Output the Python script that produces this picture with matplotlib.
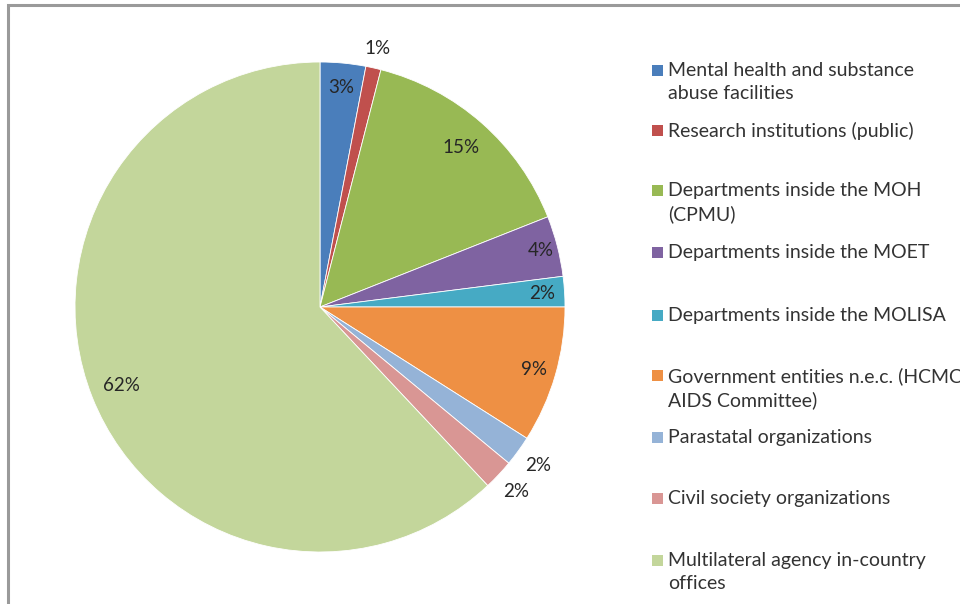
import numpy as np
import matplotlib.pyplot as plt
from matplotlib.patches import Rectangle

plt.rcParams['font.family'] = ['Lato', 'DejaVu Sans']

categories = [
    'Mental health and substance\nabuse facilities',
    'Research institutions (public)',
    'Departments inside the MOH\n(CPMU)',
    'Departments inside the MOET',
    'Departments inside the MOLISA',
    'Government entities n.e.c. (HCMC\nAIDS Committee)',
    'Parastatal organizations',
    'Civil society organizations',
    'Multilateral agency in-country\noffices',
]
shares = [3, 1, 15, 4, 2, 9, 2, 2, 62]

colors = ['#4a7ebb', '#c0504d', '#98b954', '#7f63a1', '#46aac4',
          '#ee9044', '#95b3d7', '#d99694', '#c3d69b']
# radial position of each percentage label (fraction of radius)
label_dist = [0.90, 1.08, 0.87, 0.93, 0.91, 0.91, 1.10, 1.10, 0.87]
# legend row positions (pixels from top)
legend_y = [70, 130, 190, 252, 315, 375, 437, 498, 560]

W, H = 960, 604
fig = plt.figure(figsize=(W / 100, H / 100), dpi=100)
ax = fig.add_axes([0, 0, 1, 1])

# outer chart frame, running off the right and bottom edges
ax.add_patch(Rectangle((8, -10), W, H - 5 + 10, fill=False,
                       edgecolor='#9a9a9a', linewidth=2.2))

cx, cy, r = 320, H - 307, 245
wedges, _ = ax.pie(shares, colors=colors, startangle=90, counterclock=False,
                   center=(cx, cy), radius=r, frame=True,
                   wedgeprops=dict(edgecolor='white', linewidth=0.6))
ax.set_xlim(0, W)
ax.set_ylim(0, H)
ax.axis('off')

for w, v, d in zip(wedges, shares, label_dist):
    mid = np.deg2rad((w.theta1 + w.theta2) / 2)
    ax.text(cx + d * r * np.cos(mid), cy + d * r * np.sin(mid), f'{v}%',
            ha='center', va='center', fontsize=13.5, color='#262626')

for lab, col, y in zip(categories, colors, legend_y):
    ax.add_patch(Rectangle((652, H - y - 6), 11, 11, color=col, lw=0))
    ax.text(668, H - y + 8, lab, ha='left', va='top', fontsize=14,
            color='#333333', linespacing=1.45)

fig.savefig('out.png', dpi=100)
